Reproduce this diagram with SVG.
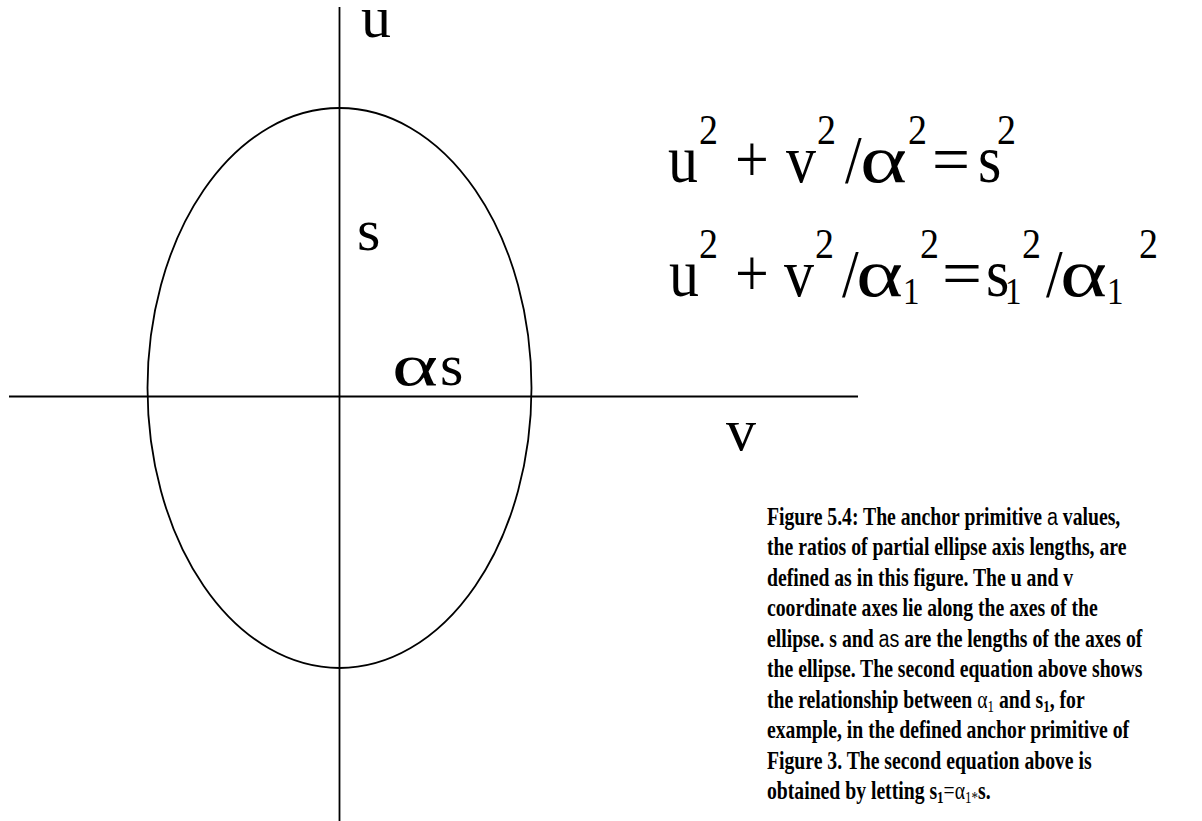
<svg xmlns="http://www.w3.org/2000/svg" width="1202" height="821" viewBox="0 0 1202 821">
<style>
.ln{stroke:#000;stroke-width:1.8;fill:none}
.big{font-family:"Liberation Serif","Times New Roman",serif;font-size:60px;fill:#000}
.sup{font-family:"Liberation Serif","Times New Roman",serif;font-size:38px;fill:#000}
.sb{font-family:"Liberation Serif","Times New Roman",serif;font-size:33px;fill:#000}
.cap{font-family:"Liberation Serif","Times New Roman",serif;font-size:19.7px;font-weight:bold;fill:#000}
.sans{font-family:"Liberation Sans",Arial,sans-serif;font-weight:normal}
.rg{font-weight:normal}
.sub{font-size:13px}
</style>
<rect width="1202" height="821" fill="#fff"/>
<g id="connectors">
<line class="ln" x1="339.5" y1="7" x2="339.5" y2="821"/>
<line class="ln" x1="9" y1="396.5" x2="858" y2="396.5"/>
</g>
<g id="ellipse">
<ellipse class="ln" cx="339.5" cy="388" rx="192" ry="280"/>
</g>
<g id="axis-labels">
<text class="big" x="361" y="37">u</text>
<text class="big" x="726" y="450">v</text>
<text class="big" x="357" y="250">s</text>
<text class="big" x="392" y="385" textLength="46" lengthAdjust="spacingAndGlyphs">α</text>
<text class="big" x="440" y="385">s</text>
</g>
<g id="equation1" transform="translate(0,182) scale(1,1.12)">
<text class="big" x="668" y="0">u</text>
<text class="sup" x="699" y="-34">2</text>
<text class="big" x="735" y="0">+</text>
<text class="big" x="786" y="0">v</text>
<text class="sup" x="817" y="-34">2</text>
<text class="big" x="845" y="0">/</text>
<text class="big" x="860" y="0" textLength="47" lengthAdjust="spacingAndGlyphs">α</text>
<text class="sup" x="908" y="-34">2</text>
<text class="big" x="932" y="0" textLength="38" lengthAdjust="spacingAndGlyphs">=</text>
<text class="big" x="978" y="0">s</text>
<text class="sup" x="997" y="-34">2</text>
</g>
<g id="equation2" transform="translate(0,296) scale(1,1.12)">
<text class="big" x="669" y="0">u</text>
<text class="sup" x="699" y="-34">2</text>
<text class="big" x="735" y="0">+</text>
<text class="big" x="784" y="0">v</text>
<text class="sup" x="815" y="-34">2</text>
<text class="big" x="842" y="0">/</text>
<text class="big" x="856" y="0" textLength="47" lengthAdjust="spacingAndGlyphs">α</text>
<text class="sb" x="903" y="7">1</text>
<text class="sup" x="920" y="-34">2</text>
<text class="big" x="942" y="0" textLength="40" lengthAdjust="spacingAndGlyphs">=</text>
<text class="big" x="986" y="0">s</text>
<text class="sb" x="1005" y="7">1</text>
<text class="sup" x="1022" y="-34">2</text>
<text class="big" x="1046" y="0">/</text>
<text class="big" x="1060" y="0" textLength="47" lengthAdjust="spacingAndGlyphs">α</text>
<text class="sb" x="1107" y="7">1</text>
<text class="sup" x="1139" y="-34">2</text>
</g>
<g id="caption" xml:space="preserve" transform="scale(1,1.25)">
<text class="cap" x="767" y="420">Figure 5.4: The anchor primitive <tspan class="sans">a</tspan> values,</text>
<text class="cap" x="767" y="444.4">the ratios of partial ellipse axis lengths, are</text>
<text class="cap" x="767" y="468.8">defined as in this figure.  The u and v</text>
<text class="cap" x="767" y="493.2">coordinate axes lie along the axes of the</text>
<text class="cap" x="767" y="517.6">ellipse.  s and <tspan class="sans">as</tspan> are the lengths of the axes of</text>
<text class="cap" x="767" y="542">the ellipse.  The second equation above shows</text>
<text class="cap" x="767" y="566.4">the relationship between <tspan class="rg">α</tspan><tspan class="rg sub" dy="3">1</tspan><tspan dy="-3"> and s</tspan><tspan class="sub" dy="3">1</tspan><tspan dy="-3">, for</tspan></text>
<text class="cap" x="767" y="590.8">example, in the defined anchor primitive of</text>
<text class="cap" x="767" y="615.2">Figure 3.  The second equation above is</text>
<text class="cap" x="767" y="639.6">obtained by letting s<tspan class="sub" dy="3">1</tspan><tspan class="rg" dy="-3">=α</tspan><tspan class="rg sub" dy="3">1*</tspan><tspan dy="-3">s.</tspan></text>
</g>
</svg>
